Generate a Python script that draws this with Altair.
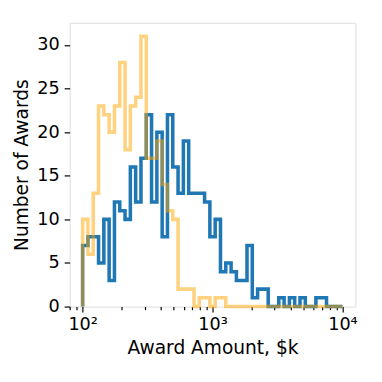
import numpy as np
import pandas as pd
import altair as alt

# 49 log-spaced bins from 10^2 to 10^4 $k
bin_edges = np.logspace(2, 4, 50)

blue_counts = [7, 8, 8, 5, 10, 3, 12, 11, 10, 16,
               12, 17, 22, 12, 20, 8, 22, 16, 13, 19,
               13, 13, 13, 12, 8, 10, 4, 5, 4, 3,
               3, 7, 1, 2, 2, 0, 0, 1, 0, 1,
               0, 1, 0, 0, 1, 1, 0, 0, 0]

orange_counts = [10, 6, 13, 23, 22, 20, 23, 28, 18, 23,
                 24, 31, 17, 17, 19, 14, 11, 10, 2, 2,
                 2, 0, 1, 1, 0, 1, 1, 0, 0, 0,
                 0, 0, 0, 0, 0, 0, 0, 0, 0, 0,
                 0, 0, 0, 0, 0, 0, 0, 0, 0]

major_ticks = [100, 1000, 10000]
minor_ticks = [80, 90, 200, 300, 400, 500, 600, 700, 800, 900,
               2000, 3000, 4000, 5000, 6000, 7000, 8000, 9000]
y_ticks = [0, 5, 10, 15, 20, 25, 30]


def outline(counts):
    xs = [bin_edges[0]]
    ys = [0]
    for k, c in enumerate(counts):
        xs += [bin_edges[k], bin_edges[k + 1]]
        ys += [c, c]
    xs.append(bin_edges[-1])
    ys.append(0)
    return pd.DataFrame({"x": xs, "y": ys, "order": list(range(len(xs)))})


FONT = "DejaVu Sans"
x_scale = alt.Scale(type="log", domain=[10 ** 1.9, 10 ** 4.1], nice=False)
y_scale = alt.Scale(domain=[0, 32.55], nice=False)

x_axis = alt.Axis(
    values=sorted(major_ticks + minor_ticks),
    labelExpr="datum.value == 100 ? '10²' : datum.value == 1000 ? '10³' : datum.value == 10000 ? '10⁴' : ''",
    tickSize={"condition": {"test": "datum.value == 100 || datum.value == 1000 || datum.value == 10000", "value": 5.6}, "value": 3.2},
    tickWidth=1.2,
    tickColor="black",
    labelFontSize=18,
    labelFont=FONT,
    labelColor="black",
    labelPadding=4,
    labelOverlap=False,
    labelFlush=False,
    domain=False,
    grid=False,
    title="Award Amount, $k",
    titleFont=FONT,
    titleFontSize=19,
    titleFontWeight="normal",
    titleColor="black",
    titleBaseline="alphabetic",
    titleY=47.5,
)

y_axis = alt.Axis(
    values=y_ticks,
    tickSize=5.6,
    tickWidth=1.2,
    tickColor="black",
    labelFontSize=18,
    labelFont=FONT,
    labelColor="black",
    labelPadding=5,
    domain=False,
    grid=False,
    title="Number of Awards",
    titleFont=FONT,
    titleFontSize=19,
    titleFontWeight="normal",
    titleColor="black",
    titleAngle=270,
    titleAlign="center",
    titleBaseline="middle",
    titleX=-49,
    titleY=145,
)

blue = alt.Chart(outline(blue_counts)).mark_line(
    color="#1f77b4", strokeWidth=3.6, strokeJoin="miter", strokeCap="butt"
).encode(
    x=alt.X("x:Q", scale=x_scale, axis=x_axis),
    y=alt.Y("y:Q", scale=y_scale, axis=y_axis),
    order="order:Q",
)

orange = alt.Chart(outline(orange_counts)).mark_line(
    color="#ffa500", opacity=0.5, strokeWidth=3.6, strokeJoin="miter", strokeCap="butt"
).encode(
    x=alt.X("x:Q", scale=x_scale),
    y=alt.Y("y:Q", scale=y_scale),
    order="order:Q",
)

chart = alt.layer(blue, orange).properties(
    width=292,
    height=290,
    autosize=alt.AutoSizeParams(type="none"),
    padding={"left": 63, "top": 11, "right": 19, "bottom": 73},
).configure_view(
    stroke="black", strokeWidth=1.2
).configure(background="white")

chart.save("out.html", embed_options={"renderer": "svg", "actions": False})
